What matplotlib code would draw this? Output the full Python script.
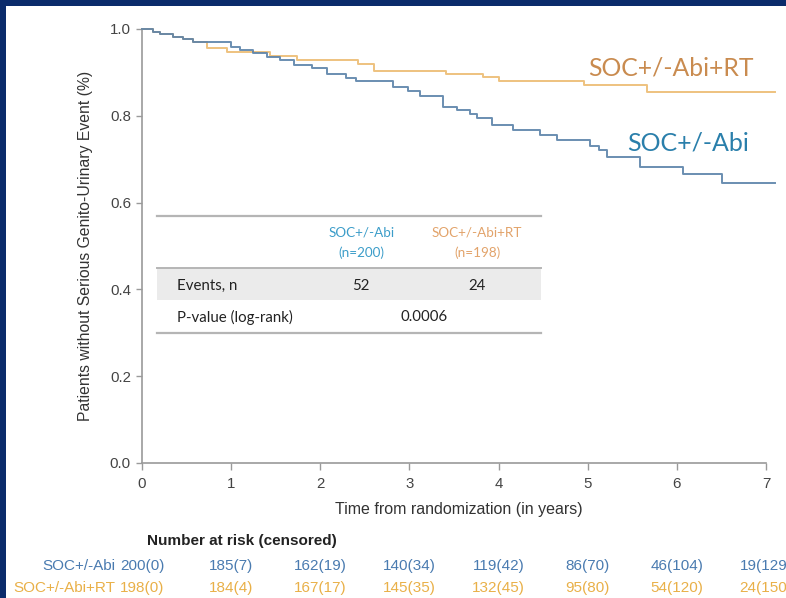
import matplotlib
matplotlib.use("Agg")
import matplotlib.pyplot as plt
import matplotlib.transforms as mtransforms
from matplotlib.patches import Rectangle

# Kaplan-Meier step curves (time in years, survival fraction)
t_abi = [0, 0.12, 0.20, 0.35, 0.46, 0.57, 1.00, 1.10, 1.24, 1.40, 1.55, 1.70,
         1.91, 2.07, 2.29, 2.40, 2.82, 2.98, 3.12, 3.38, 3.53, 3.68, 3.76, 3.93,
         4.16, 4.47, 4.65, 5.02, 5.13, 5.22, 5.59, 6.07, 6.51, 7.10]
s_abi = [1.0, 0.994, 0.988, 0.982, 0.977, 0.969, 0.959, 0.952, 0.944, 0.936,
         0.929, 0.918, 0.909, 0.896, 0.888, 0.879, 0.867, 0.858, 0.846, 0.821,
         0.813, 0.804, 0.794, 0.778, 0.767, 0.756, 0.744, 0.730, 0.720, 0.704,
         0.683, 0.666, 0.645, 0.645]

t_rt = [0, 0.12, 0.20, 0.35, 0.46, 0.57, 0.73, 0.95, 1.44, 1.74, 2.42, 2.60,
        3.41, 3.82, 4.01, 4.96, 5.67, 7.10]
s_rt = [1.0, 0.994, 0.988, 0.982, 0.977, 0.969, 0.955, 0.947, 0.938, 0.929,
        0.920, 0.904, 0.897, 0.889, 0.879, 0.871, 0.855, 0.855]

risk_times = [0, 1, 2, 3, 4, 5, 6, 7]
risk_abi = ["200(0)", "185(7)", "162(19)", "140(34)", "119(42)", "86(70)",
            "46(104)", "19(129)"]
risk_rt = ["198(0)", "184(4)", "167(17)", "145(35)", "132(45)", "95(80)",
           "54(120)", "24(150)"]

arm_names = ["SOC+/-Abi", "SOC+/-Abi+RT"]
arm_n = ["(n=200)", "(n=198)"]
events = ["52", "24"]
p_value = "0.0006"

LINE_ABI = "#5b82a9"
LINE_RT = "#eec27f"
TXT_ABI = "#2a7fab"
TXT_RT = "#c98b4f"
HEAD_ABI = "#3c9dc9"
HEAD_RT = "#e2a36a"
RISK_ABI = "#4a7bb0"
RISK_RT = "#e9b048"
NAVY = "#0b2b6b"
AXIS_GREY = "#9a9a9a"

ARIAL = ["Liberation Sans", "DejaVu Sans"]
CALIBRI = ["Lato", "DejaVu Sans"]

fig = plt.figure(figsize=(7.86, 5.98), dpi=100)
fig.patch.set_facecolor("white")
ax = fig.add_axes([0.1807, 0.2258, 0.8052, 0.7258])

ax.step(t_rt, s_rt, where="post", color=LINE_RT, lw=1.4, clip_on=False,
        zorder=3)
ax.step(t_abi, s_abi, where="post", color=LINE_ABI, lw=1.4, clip_on=False,
        alpha=0.9, zorder=4)

ax.set_xlim(0, 7.1)
ax.set_ylim(0, 1.0)
for side in ["top", "right"]:
    ax.spines[side].set_visible(False)
for side in ["left", "bottom"]:
    ax.spines[side].set_color(AXIS_GREY)
    ax.spines[side].set_linewidth(1.2)
ax.spines["bottom"].set_bounds(0, 7)

ax.set_xticks(range(8))
ax.set_yticks([0.0, 0.2, 0.4, 0.6, 0.8, 1.0])
ax.set_yticklabels(["0.0", "0.2", "0.4", "0.6", "0.8", "1.0"])
ax.tick_params(axis="both", colors=AXIS_GREY, labelcolor="#444444",
               labelsize=10.8, width=1.0)
ax.tick_params(axis="y", length=4, pad=4)
ax.tick_params(axis="x", length=5, pad=5)
for lab in ax.get_xticklabels() + ax.get_yticklabels():
    lab.set_family(ARIAL)

ax.set_xlabel("Time from randomization (in years)", fontsize=11.5,
              family=ARIAL, color="#333333", labelpad=8)
ax.set_ylabel("Patients without Serious Genito-Urinary Event (%)",
              fontsize=11.3, family=ARIAL, color="#333333", labelpad=12)

# curve labels
ax.text(5.0, 0.910, "SOC+/-Abi+RT", fontsize=17.8, family=CALIBRI,
        color=TXT_RT, va="center", ha="left")
ax.text(5.44, 0.737, "SOC+/-Abi", fontsize=18, family=CALIBRI,
        color=TXT_ABI, va="center", ha="left")

# inset summary table
tx0, tx1 = 0.17, 4.48
ax.add_patch(Rectangle((tx0, 0.376), tx1 - tx0, 0.073, facecolor="#ebebeb",
                       edgecolor="none", zorder=1))
for yy, lw in [(0.569, 1.6), (0.449, 1.4), (0.300, 1.6)]:
    ax.plot([tx0, tx1], [yy, yy], color="#b5b5b5", lw=lw, zorder=2)

col_x = [2.46, 3.76]
head_cols = [HEAD_ABI, HEAD_RT]
for cx, name, n, c in zip(col_x, arm_names, arm_n, head_cols):
    ax.text(cx, 0.530, name, ha="center", va="center", fontsize=9.7,
            family=CALIBRI, color=c)
    ax.text(cx, 0.484, n, ha="center", va="center", fontsize=9.7,
            family=CALIBRI, color=c)
ax.text(0.39, 0.408, "Events, n", ha="left", va="center", fontsize=10.8,
        family=CALIBRI, color="#222222", zorder=3)
for cx, ev in zip(col_x, events):
    ax.text(cx, 0.408, ev, ha="center", va="center", fontsize=10.8,
            family=CALIBRI, color="#222222", zorder=3)
ax.text(0.39, 0.336, "P-value (log-rank)", ha="left", va="center",
        fontsize=10.8, family=CALIBRI, color="#222222")
ax.text(3.16, 0.336, p_value, ha="center", va="center", fontsize=10.8,
        family=CALIBRI, color="#222222")

# number at risk below the axis
trans = mtransforms.blended_transform_factory(ax.transData, fig.transFigure)
fig.text(0.187, 0.0953, "Number at risk (censored)", fontsize=11,
         fontweight="bold", family=ARIAL, color="#222222", va="center")
for row_y, name, vals, c in [(0.0535, arm_names[0], risk_abi, RISK_ABI),
                             (0.0167, arm_names[1], risk_rt, RISK_RT)]:
    ax.text(-0.30, row_y, name, transform=trans, ha="right", va="center",
            fontsize=11, family=ARIAL, color=c, clip_on=False)
    for tt, v in zip(risk_times, vals):
        ax.text(tt, row_y, v, transform=trans, ha="center", va="center",
                fontsize=11, family=ARIAL, color=c, clip_on=False)

# slide frame on the top and left edges
fig.patches.append(Rectangle((0, 0), 0.0076, 1, transform=fig.transFigure,
                             facecolor=NAVY, edgecolor="none", zorder=10))
fig.patches.append(Rectangle((0, 0.99), 1, 0.01, transform=fig.transFigure,
                             facecolor=NAVY, edgecolor="none", zorder=10))

fig.savefig("out.png", dpi=100)
